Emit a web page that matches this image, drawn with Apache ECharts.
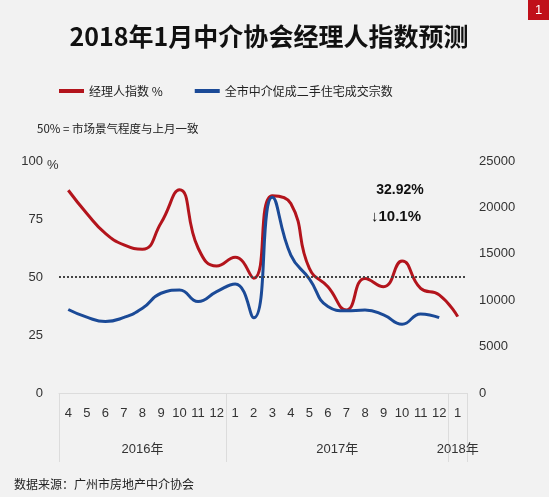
<!DOCTYPE html>
<html><head><meta charset="utf-8">
<script src="https://cdn.jsdelivr.net/npm/echarts@6/dist/echarts.min.js"></script>
<style>html,body{margin:0;padding:0;background:#f2f2f2}#c{width:549px;height:497px}</style>
</head><body><div id="c"></div>
<script>
const categories = ['4','5','6','7','8','9','10','11','12','1','2','3','4','5','6','7','8','9','10','11','12','1'];
const yearNames = ['2016年','2017年','2018年'];
const yearCenters = [4, 14.5, 21];
const yearBoundaries = [0, 9, 21];
const indexName = '经理人指数 %';
const dealName = '全市中介促成二手住宅成交宗数';
const indexValues = [87.4, 77.4, 68.8, 63.8, 62.0, 73.3, 87.6, 62.5, 54.7, 58.5, 49.5, 85.0, 81.7, 53.7, 45.8, 35.8, 49.4, 45.8, 56.9, 45.1, 42.3, 32.92];
const dealValues = [9000, 8170, 7700, 8150, 9130, 10750, 11100, 9850, 10920, 11750, 8100, 21100, 14870, 12290, 9310, 8850, 8950, 8420, 7420, 8520, 8120];
const changeText = '↓10.1%';
const baseline = 50;

const NARROW = "'Liberation Sans Narrow','Liberation Sans','Noto Sans CJK SC',sans-serif";
const CJK = "'Noto Sans CJK SC','Liberation Sans',sans-serif";

const chart = echarts.init(document.getElementById('c'));
chart.setOption({
  backgroundColor: '#f2f2f2',
  animation: false,
  grid: { left: 59, right: 82, top: 161, bottom: 104 },
  legend: {
    left: 54, top: 80, icon: 'rect', itemWidth: 25, itemHeight: 4, itemGap: 32,
    textStyle: { fontSize: 12, color: '#222', fontFamily: CJK },
    data: [indexName, dealName]
  },
  xAxis: [{
    type: 'category', data: categories, boundaryGap: true,
    axisLine: { lineStyle: { color: '#dcdcdc', width: 1 } },
    axisTick: { show: true, length: 69, interval: (i) => yearBoundaries.indexOf(i) >= 0, lineStyle: { color: '#dcdcdc' } },
    axisLabel: { interval: 0, margin: 14, fontSize: 13, color: '#333', fontFamily: NARROW },
    splitLine: { show: false }
  }, {
    type: 'value', position: 'bottom', min: -0.5, max: 21.5, interval: 0.5,
    axisLine: { show: false }, axisTick: { show: false }, splitLine: { show: false },
    axisLabel: { margin: 50, fontSize: 13, color: '#333', fontFamily: NARROW,
      formatter: (v) => { const k = yearCenters.indexOf(v); return k >= 0 ? yearNames[k] : ''; } }
  }],
  yAxis: [{
    type: 'value', min: 0, max: 100, interval: 25, position: 'left',
    axisLine: { show: false }, axisTick: { show: false }, splitLine: { show: false },
    axisLabel: { margin: 16, fontSize: 13, color: '#333', fontFamily: NARROW }
  }, {
    type: 'value', min: 0, max: 25000, interval: 5000, position: 'right',
    axisLine: { show: false }, axisTick: { show: false }, splitLine: { show: false },
    axisLabel: { margin: 12, fontSize: 13, color: '#333', fontFamily: NARROW, formatter: (v) => String(v) }
  }],
  series: [{
    name: indexName, type: 'line', data: indexValues, smooth: 0.5, symbol: 'none',
    color: '#b3141c', lineStyle: { color: '#b3141c', width: 3 },
    markLine: { silent: true, symbol: 'none', label: { show: false },
      lineStyle: { type: 'dotted', color: '#444', width: 2 }, data: [{ yAxis: baseline }] }
  }, {
    name: dealName, type: 'line', yAxisIndex: 1, data: dealValues, smooth: 0.5, symbol: 'none',
    color: '#1b4a97', lineStyle: { color: '#1b4a97', width: 3 }
  }],
  graphic: [
    { type: 'text', x: 269, y: 36, style: { text: '2018年1月中介协会经理人指数预测', font: 'bold 25px ' + CJK, fill: '#111', align: 'center', verticalAlign: 'middle' } },
    { type: 'rect', shape: { x: 528, y: 0, width: 21, height: 20 }, style: { fill: '#c0101a' } },
    { type: 'text', x: 538.5, y: 10, style: { text: '1', font: '13px ' + NARROW, fill: '#fff', align: 'center', verticalAlign: 'middle' } },
    { type: 'text', x: 37, y: 129, style: { text: '50% = 市场景气程度与上月一致', font: '11.5px ' + CJK, fill: '#222', verticalAlign: 'middle' } },
    { type: 'text', x: 47, y: 165, style: { text: '%', font: '13px ' + NARROW, fill: '#333', verticalAlign: 'middle' } },
    { type: 'text', x: 400, y: 190, style: { text: indexValues[indexValues.length - 1].toFixed(2) + '%', font: 'bold 14px ' + NARROW, fill: '#111', align: 'center', verticalAlign: 'middle' } },
    { type: 'text', x: 396, y: 217, style: { text: changeText, font: 'bold 15px ' + NARROW, fill: '#111', align: 'center', verticalAlign: 'middle' } },
    { type: 'text', x: 14, y: 484, style: { text: '数据来源：广州市房地产中介协会', font: '12px ' + CJK, fill: '#222', verticalAlign: 'middle' } }
  ]
});
</script></body></html>
